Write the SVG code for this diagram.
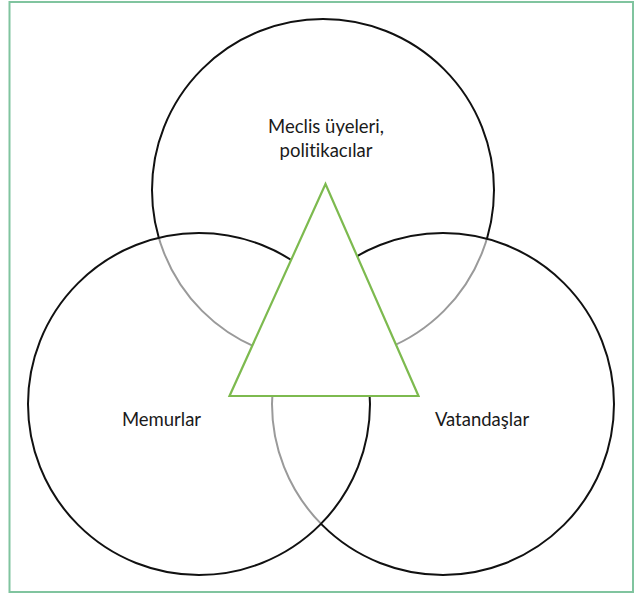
<svg xmlns="http://www.w3.org/2000/svg" width="639" height="593" viewBox="0 0 639 593">
<style>
.txt{font-family:"Lato","Open Sans","Liberation Sans",sans-serif;font-size:18.5px;fill:#1a1a1a;text-anchor:middle;font-variant-ligatures:none;font-feature-settings:"liga" 0}
.blk{fill:none;stroke:#111;stroke-width:2}
.gry{fill:none;stroke:#9a9a9a;stroke-width:2}
.tri{fill:#fff;stroke:#7dba4f;stroke-width:2.2;stroke-linejoin:miter}
</style>
<defs>
<clipPath id="inL"><circle cx="199" cy="404" r="171"/></clipPath>
<clipPath id="inR"><circle cx="443" cy="404" r="171"/></clipPath>
<clipPath id="inLR"><circle cx="199" cy="404" r="171"/><circle cx="443" cy="404" r="171"/></clipPath>
<clipPath id="outL"><path clip-rule="evenodd" d="M0 0H639V593H0Z M28 404a171 171 0 1 0 342 0a171 171 0 1 0 -342 0Z"/></clipPath>
<clipPath id="outR"><path clip-rule="evenodd" d="M0 0H639V593H0Z M272 404a171 171 0 1 0 342 0a171 171 0 1 0 -342 0Z"/></clipPath>
</defs>
<rect x="9.5" y="2" width="623.5" height="590" fill="#fff" stroke="#80c49f" stroke-width="2"/>
<g id="node-top">
<g clip-path="url(#outL)"><circle class="blk" cx="323" cy="190" r="171" clip-path="url(#outR)"/></g>
<circle class="gry" cx="323" cy="190" r="171" clip-path="url(#inLR)"/>
</g>
<g id="node-right">
<circle class="blk" cx="443" cy="404" r="171" clip-path="url(#outL)"/>
<circle class="gry" cx="443" cy="404" r="171" clip-path="url(#inL)"/>
</g>
<g id="node-left">
<circle class="blk" cx="199" cy="404" r="171"/>
</g>
<g id="connectors"></g>
<g id="node-triangle">
<polygon class="tri" points="325.5,184 229.5,396 418.5,396"/>
</g>
<g id="labels">
<text class="txt" x="326" y="133">Meclis üyeleri,</text>
<text class="txt" x="326" y="157">politikacılar</text>
<text class="txt" x="161.5" y="426">Memurlar</text>
<text class="txt" x="482" y="426">Vatandaşlar</text>
</g>
</svg>
